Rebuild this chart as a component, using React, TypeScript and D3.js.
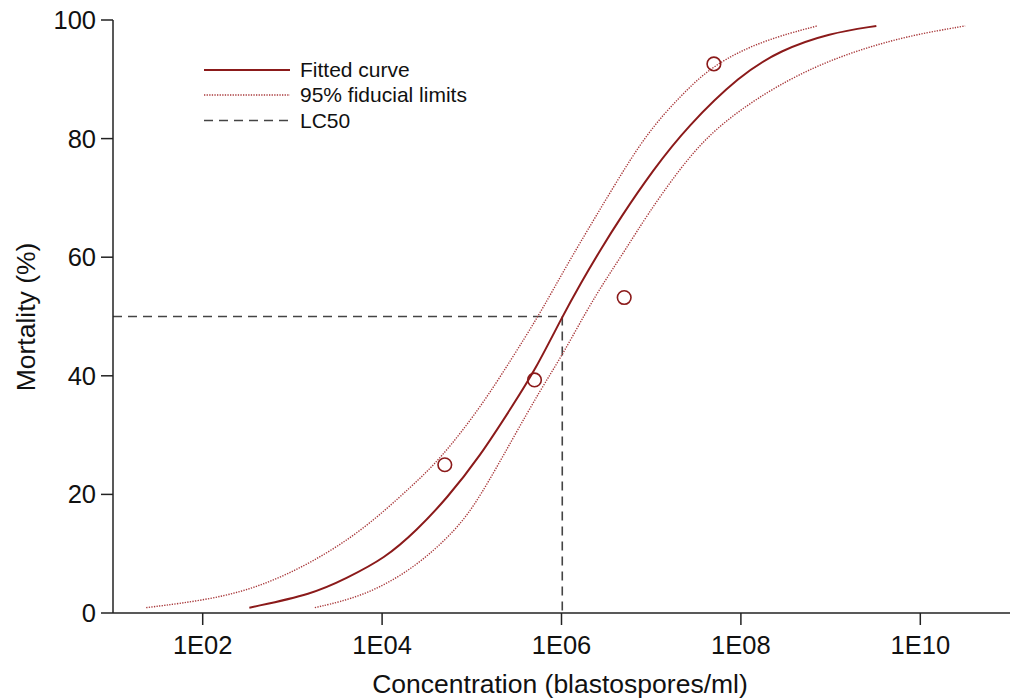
import React from "react";
import * as d3 from "d3";

// log10 of concentration (blastospores/ml) and mortality (%)
const fittedLogConc = [2.52, 3.23, 3.6, 4.03, 4.39, 4.72, 5.09, 5.46, 5.7, 6.01, 6.21, 6.44, 6.65, 7.02, 7.4, 7.99, 8.44, 8.99, 9.51];
const fittedMortality = [0.9, 3.2, 5.85, 9.2, 14.0, 19.3, 26.4, 35.1, 40.8, 50.0, 55.5, 61.4, 66.5, 74.7, 82.0, 90.7, 94.9, 97.8, 99.0];

const upperLogConc = [1.37, 2.11, 2.67, 3.23, 3.79, 4.34, 4.65, 5.09, 5.45, 5.74, 5.98, 6.17, 6.58, 6.95, 7.32, 7.69, 8.25, 8.85];
const upperMortality = [0.9, 2.3, 4.6, 8.6, 14.0, 21.5, 26.0, 34.5, 43.0, 50.0, 56.5, 61.5, 71.9, 80.9, 87.1, 92.5, 96.6, 99.0];

const lowerLogConc = [3.25, 3.79, 4.34, 4.83, 5.09, 5.46, 5.76, 6.01, 6.28, 6.5, 6.71, 6.95, 7.32, 7.69, 8.25, 8.81, 9.36, 9.92, 10.5];
const lowerMortality = [0.9, 2.8, 7.3, 14.0, 19.5, 29.5, 37.5, 43.5, 51.0, 56.4, 61.2, 67.0, 75.0, 81.5, 87.6, 92.1, 95.2, 97.5, 99.0];

const observedConc = [5e4, 5e5, 5e6, 5e7];
const observedMortality = [25.0, 39.3, 53.2, 92.6];

const lc50 = 1.02e6;
const lc50Mortality = 50;

const xTicks = [1e2, 1e4, 1e6, 1e8, 1e10];
const xTickLabels = ["1E02", "1E04", "1E06", "1E08", "1E10"];
const yTicks = [0, 20, 40, 60, 80, 100];

const legendLabels = ["Fitted curve", "95% fiducial limits", "LC50"];

const FONT = "'Liberation Sans', Arial, sans-serif";
const RED = "#8b1a1a";
const DOT_RED = "#a8383a";
const DASH = "#444";
const AXIS = "#222";

export default function App() {
  const W = 1016;
  const H = 700;
  const x = d3.scaleLog().domain([1e1, 1e11]).range([113, 1010]);
  const y = d3.scaleLinear().domain([0, 100]).range([613, 20]);

  const mk = (lc: number[], m: number[]) =>
    lc.map((v, i) => [x(Math.pow(10, v)), y(m[i])] as [number, number]);

  const line = d3.line<[number, number]>().curve(d3.curveBasis);

  const fitted = line(mk(fittedLogConc, fittedMortality)) || "";
  const upper = line(mk(upperLogConc, upperMortality)) || "";
  const lower = line(mk(lowerLogConc, lowerMortality)) || "";

  const x0 = x.range()[0];
  const xEnd = x.range()[1];
  const yBottom = y(0);
  const yTop = y(100);

  const legendX1 = 204;
  const legendX2 = 290;
  const legendY = [70, 95, 120.5];

  return (
    <svg
      width={W}
      height={H}
      style={{ position: "absolute", left: 0, top: 0, background: "#fff" }}
      fontFamily={FONT}
    >
      {/* LC50 guide lines */}
      <line x1={x0} x2={x(lc50)} y1={y(lc50Mortality)} y2={y(lc50Mortality)} stroke={DASH} strokeWidth={1.6} strokeDasharray="9,6" />
      <line x1={x(lc50)} x2={x(lc50)} y1={y(lc50Mortality)} y2={yBottom} stroke={DASH} strokeWidth={1.6} strokeDasharray="9,6" />

      {/* curves */}
      <path d={upper} fill="none" stroke={DOT_RED} strokeWidth={1.4} strokeDasharray="1.3,1.3" />
      <path d={lower} fill="none" stroke={DOT_RED} strokeWidth={1.4} strokeDasharray="1.3,1.3" />
      <path d={fitted} fill="none" stroke={RED} strokeWidth={2} />

      {/* observed points */}
      {observedConc.map((c, i) => (
        <circle key={i} cx={x(c)} cy={y(observedMortality[i])} r={6.8} fill="none" stroke={RED} strokeWidth={1.6} />
      ))}

      {/* axes */}
      <line x1={x0} x2={xEnd} y1={yBottom} y2={yBottom} stroke={AXIS} strokeWidth={1.5} />
      <line x1={x0} x2={x0} y1={yTop} y2={yBottom} stroke={AXIS} strokeWidth={1.5} />

      {xTicks.map((t, i) => (
        <g key={t}>
          <line x1={x(t)} x2={x(t)} y1={yBottom} y2={yBottom + 12} stroke={AXIS} strokeWidth={1.5} />
          <text x={x(t)} y={yBottom + 41} textAnchor="middle" fontSize={25.5} fill="#111">
            {xTickLabels[i]}
          </text>
        </g>
      ))}

      {yTicks.map((t) => (
        <g key={t}>
          <line x1={x0 - 12} x2={x0} y1={y(t)} y2={y(t)} stroke={AXIS} strokeWidth={1.5} />
          <text x={x0 - 17} y={y(t) + 9} textAnchor="end" fontSize={25.5} fill="#111">
            {t}
          </text>
        </g>
      ))}

      {/* axis titles */}
      <text x={560} y={693} textAnchor="middle" fontSize={26.5} fill="#111">
        Concentration (blastospores/ml)
      </text>
      <text transform="translate(35,317) rotate(-90)" textAnchor="middle" fontSize={26.5} fill="#111">
        Mortality (%)
      </text>

      {/* legend */}
      <line x1={legendX1} x2={legendX2} y1={legendY[0]} y2={legendY[0]} stroke={RED} strokeWidth={2} />
      <line x1={legendX1} x2={legendX2} y1={legendY[1]} y2={legendY[1]} stroke={DOT_RED} strokeWidth={1.4} strokeDasharray="1.3,1.3" />
      <line x1={legendX1} x2={legendX2} y1={legendY[2]} y2={legendY[2]} stroke={DASH} strokeWidth={1.6} strokeDasharray="9,6" />
      {legendLabels.map((l, i) => (
        <text key={l} x={300} y={legendY[i] + 7} fontSize={21} fill="#111">
          {l}
        </text>
      ))}
    </svg>
  );
}
